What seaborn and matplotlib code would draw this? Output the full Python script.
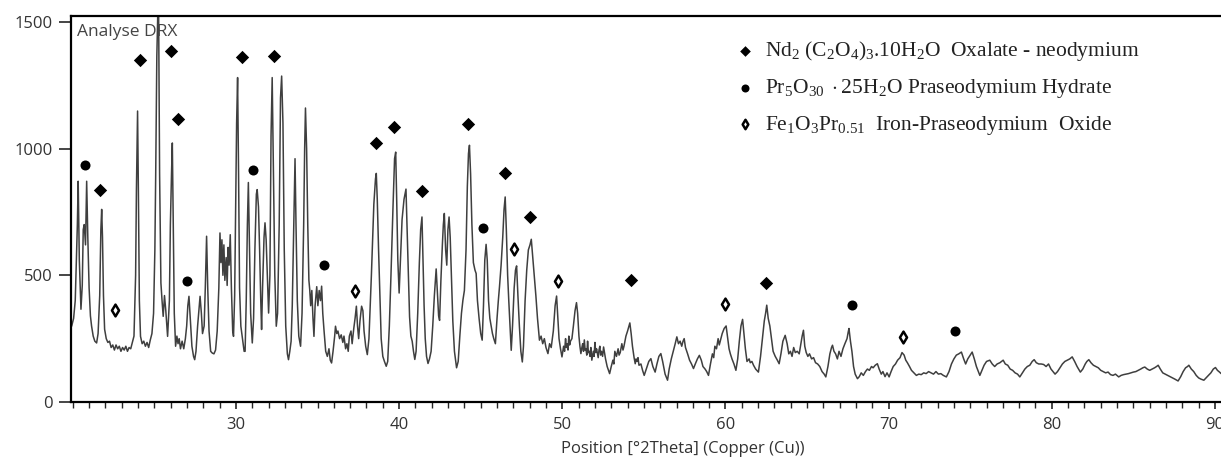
import pandas as pd
import matplotlib.pyplot as plt
import seaborn as sns
from matplotlib.ticker import MultipleLocator, FixedLocator

sns.set_style("white")
plt.rcParams['font.family'] = ['Open Sans', 'DejaVu Sans']
plt.rcParams['mathtext.fontset'] = 'custom'
plt.rcParams['mathtext.rm'] = 'Liberation Serif'
plt.rcParams['mathtext.it'] = 'Liberation Serif:italic'
plt.rcParams['mathtext.bf'] = 'Liberation Serif:bold'

# XRD pattern: (2theta, counts), split by range
scan_20_25 = [(19.93, 299), (20.05, 330), (20.15, 400), (20.23, 588), (20.28, 700), (20.33, 871),
              (20.40, 560), (20.50, 366), (20.58, 460), (20.64, 680), (20.70, 700), (20.78, 620),
              (20.85, 871), (20.92, 650), (21.00, 450), (21.08, 340), (21.15, 300), (21.25, 260),
              (21.35, 240), (21.46, 233), (21.55, 270), (21.65, 420), (21.72, 680), (21.77, 760),
              (21.82, 650), (21.88, 420), (21.95, 287), (22.05, 250), (22.15, 235), (22.25, 240),
              (22.35, 215), (22.45, 225), (22.55, 205), (22.65, 225), (22.75, 210), (22.85, 220),
              (22.95, 200), (23.05, 215), (23.15, 205), (23.25, 220), (23.35, 200), (23.45, 215),
              (23.55, 210), (23.65, 235), (23.75, 260), (23.85, 500), (23.90, 838), (23.97, 1148),
              (24.02, 830), (24.08, 400), (24.15, 259), (24.25, 230), (24.35, 240), (24.45, 220),
              (24.55, 235), (24.65, 215), (24.75, 245), (24.85, 270), (24.95, 350)]
scan_25_30 = [(25.03, 600), (25.08, 891), (25.15, 1365), (25.25, 1650), (25.32, 900), (25.40, 470),
              (25.47, 400), (25.54, 338), (25.62, 420), (25.70, 360), (25.81, 259), (25.92, 400),
              (25.98, 700), (26.05, 900), (26.10, 1022), (26.16, 700), (26.22, 350), (26.30, 220),
              (26.38, 260), (26.45, 230), (26.52, 250), (26.60, 210), (26.70, 240), (26.80, 210),
              (26.90, 250), (26.98, 300), (27.05, 380), (27.12, 417), (27.20, 330), (27.30, 220),
              (27.40, 180), (27.47, 167), (27.55, 200), (27.65, 300), (27.75, 380), (27.80, 417),
              (27.88, 350), (27.95, 270), (28.05, 300), (28.12, 450), (28.20, 654), (28.27, 450),
              (28.35, 280), (28.45, 200), (28.55, 193), (28.65, 190), (28.75, 205), (28.85, 280),
              (28.95, 450), (29.02, 667), (29.08, 550), (29.14, 640), (29.20, 500), (29.26, 620),
              (29.32, 480), (29.40, 570), (29.46, 460), (29.52, 610), (29.58, 540), (29.65, 660),
              (29.72, 450), (29.80, 280), (29.85, 259), (29.92, 420), (29.98, 760)]
scan_30_35 = [(30.04, 1100), (30.10, 1280), (30.16, 900), (30.22, 450), (30.30, 299), (30.40, 250),
              (30.50, 200), (30.56, 200), (30.63, 400), (30.70, 700), (30.76, 866), (30.82, 650),
              (30.90, 350), (31.00, 233), (31.08, 330), (31.16, 600), (31.25, 820), (31.30, 838),
              (31.38, 770), (31.45, 600), (31.52, 400), (31.57, 286), (31.63, 450), (31.72, 650),
              (31.78, 707), (31.85, 640), (31.92, 500), (32.00, 351), (32.08, 500), (32.15, 1050),
              (32.22, 1280), (32.30, 900), (32.38, 500), (32.47, 299), (32.55, 350), (32.65, 700),
              (32.73, 1200), (32.80, 1286), (32.88, 1100), (32.96, 600), (33.05, 300), (33.15, 190),
              (33.22, 167), (33.30, 200), (33.38, 240), (33.45, 380), (33.53, 650), (33.62, 960),
              (33.68, 700), (33.76, 400), (33.85, 260), (33.96, 220), (34.05, 350), (34.15, 700),
              (34.21, 1000), (34.26, 1160), (34.33, 1000), (34.40, 700), (34.47, 480), (34.52, 444),
              (34.58, 380), (34.65, 440), (34.72, 330), (34.78, 259), (34.85, 380), (34.95, 455)]
scan_35_40 = [(35.02, 380), (35.10, 440), (35.18, 400), (35.25, 457), (35.32, 350), (35.40, 280),
              (35.50, 200), (35.60, 180), (35.70, 210), (35.78, 165), (35.86, 154), (35.95, 200),
              (36.05, 260), (36.10, 299), (36.18, 270), (36.25, 280), (36.35, 250), (36.45, 265),
              (36.55, 235), (36.62, 260), (36.72, 210), (36.80, 230), (36.88, 200), (36.95, 260),
              (37.05, 280), (37.12, 230), (37.22, 290), (37.30, 330), (37.38, 378), (37.45, 300),
              (37.52, 250), (37.60, 320), (37.70, 378), (37.78, 360), (37.85, 280), (37.95, 220),
              (38.05, 187), (38.15, 250), (38.30, 500), (38.45, 780), (38.55, 880), (38.60, 902),
              (38.66, 800), (38.74, 600), (38.82, 420), (38.90, 250), (39.00, 180), (39.10, 160),
              (39.21, 141), (39.30, 160), (39.40, 300), (39.50, 500), (39.62, 760), (39.72, 960),
              (39.79, 986), (39.85, 800), (39.92, 560), (40.00, 430)]
scan_40_45 = [(40.08, 560), (40.18, 720), (40.30, 800), (40.42, 840), (40.48, 700), (40.56, 520),
              (40.64, 336), (40.72, 260), (40.80, 240), (40.88, 200), (40.96, 168), (41.04, 200),
              (41.14, 350), (41.24, 550), (41.32, 680), (41.40, 730), (41.46, 560), (41.53, 380),
              (41.60, 250), (41.68, 180), (41.77, 152), (41.86, 170), (41.96, 200), (42.06, 300),
              (42.16, 420), (42.22, 480), (42.27, 525), (42.35, 430), (42.42, 340), (42.48, 322),
              (42.56, 480), (42.65, 620), (42.71, 700), (42.77, 744), (42.85, 600), (42.92, 540),
              (42.99, 680), (43.06, 730), (43.13, 650), (43.21, 480), (43.29, 320), (43.39, 200),
              (43.52, 135), (43.62, 160), (43.72, 260), (43.82, 350), (43.91, 402), (44.00, 440),
              (44.10, 600), (44.18, 850), (44.25, 980), (44.31, 1013), (44.38, 900), (44.46, 700),
              (44.55, 550), (44.65, 520), (44.72, 507), (44.80, 400), (44.90, 330)]
scan_45_50 = [(45.00, 270), (45.09, 244), (45.17, 380), (45.25, 560), (45.33, 622), (45.40, 560),
              (45.48, 400), (45.56, 330), (45.64, 300), (45.72, 270), (45.80, 250), (45.90, 230),
              (46.00, 330), (46.08, 400), (46.15, 454), (46.25, 540), (46.35, 650), (46.43, 760),
              (46.50, 809), (46.57, 680), (46.65, 500), (46.72, 400), (46.80, 300), (46.87, 204),
              (46.95, 300), (47.05, 450), (47.13, 520), (47.20, 537), (47.28, 420), (47.37, 300),
              (47.46, 200), (47.55, 158), (47.62, 220), (47.72, 400), (47.82, 520), (47.92, 600),
              (48.02, 620), (48.10, 642), (48.18, 580), (48.28, 500), (48.38, 420), (48.48, 330),
              (48.60, 244), (48.70, 260), (48.80, 230), (48.90, 250), (49.00, 215), (49.12, 191),
              (49.22, 230), (49.32, 215), (49.45, 280), (49.56, 380), (49.65, 418), (49.72, 340),
              (49.80, 250), (49.89, 210), (49.98, 178)]
scan_50_60 = [(50.08, 220), (50.14, 200), (50.20, 250), (50.25, 215), (50.30, 230), (50.35, 205),
              (50.40, 260), (50.45, 225), (50.50, 240), (50.59, 250), (50.68, 300), (50.78, 360),
              (50.87, 392), (50.94, 350), (51.02, 260), (51.08, 220), (51.14, 191), (51.20, 215),
              (51.25, 230), (51.30, 200), (51.35, 245), (51.40, 205), (51.45, 210), (51.50, 185),
              (51.55, 240), (51.60, 195), (51.65, 200), (51.70, 180), (51.75, 215), (51.81, 165),
              (51.90, 200), (51.95, 180), (52.00, 235), (52.05, 195), (52.10, 210), (52.20, 175),
              (52.25, 205), (52.30, 220), (52.35, 185), (52.40, 200), (52.47, 180), (52.53, 217),
              (52.65, 170), (52.75, 140), (52.90, 112), (53.00, 140), (53.10, 165), (53.16, 150),
              (53.22, 200), (53.32, 180), (53.42, 210), (53.48, 185), (53.55, 195), (53.65, 230),
              (53.72, 205), (53.78, 220), (53.90, 260), (54.00, 280), (54.14, 312), (54.22, 270),
              (54.30, 220), (54.40, 175), (54.47, 151), (54.52, 170), (54.58, 160), (54.64, 175),
              (54.70, 145), (54.82, 150), (54.92, 125), (55.02, 105), (55.15, 130), (55.30, 160),
              (55.43, 171), (55.55, 140), (55.69, 118), (55.80, 150), (55.92, 180), (56.04, 191),
              (56.15, 160), (56.30, 110), (56.45, 86), (56.55, 130), (56.68, 170), (56.80, 200),
              (56.92, 230), (57.02, 257), (57.12, 230), (57.22, 240), (57.32, 220), (57.40, 240),
              (57.47, 250), (57.55, 215), (57.68, 190), (57.80, 165), (57.92, 150), (58.04, 132),
              (58.15, 150), (58.28, 170), (58.40, 184), (58.52, 165), (58.62, 140), (58.75, 130),
              (58.85, 120), (58.96, 105), (59.08, 150), (59.20, 190), (59.28, 175), (59.35, 220),
              (59.45, 210), (59.55, 250), (59.62, 225), (59.68, 240), (59.80, 270), (59.92, 290)]
scan_60_70 = [(60.04, 300), (60.12, 260), (60.22, 210), (60.30, 190), (60.40, 170), (60.52, 150),
              (60.64, 125), (60.75, 170), (60.85, 240), (60.95, 300), (61.05, 326), (61.12, 280),
              (61.22, 210), (61.32, 160), (61.45, 170), (61.52, 155), (61.62, 160), (61.72, 145),
              (61.85, 130), (62.02, 118), (62.15, 180), (62.28, 260), (62.38, 320), (62.46, 350),
              (62.53, 382), (62.62, 330), (62.72, 300), (62.82, 250), (62.92, 200), (63.05, 180),
              (63.18, 165), (63.29, 151), (63.40, 190), (63.52, 240), (63.66, 263), (63.78, 230),
              (63.88, 190), (63.98, 200), (64.08, 180), (64.18, 215), (64.28, 195), (64.40, 200),
              (64.52, 190), (64.62, 230), (64.70, 260), (64.78, 283), (64.86, 220), (64.95, 195),
              (65.05, 180), (65.15, 190), (65.28, 170), (65.40, 175), (65.52, 155), (65.65, 150),
              (65.78, 140), (65.92, 120), (66.05, 110), (66.15, 99), (66.28, 140), (66.40, 190),
              (66.50, 215), (66.56, 224), (66.65, 200), (66.75, 190), (66.86, 170), (66.96, 200),
              (67.08, 180), (67.20, 210), (67.32, 230), (67.45, 250), (67.52, 275), (67.57, 290),
              (67.66, 240), (67.75, 200), (67.85, 140), (67.95, 110), (68.09, 92), (68.20, 100),
              (68.32, 115), (68.45, 105), (68.58, 120), (68.70, 130), (68.82, 125), (68.95, 140),
              (69.05, 135), (69.18, 145), (69.31, 151), (69.42, 130), (69.55, 110), (69.65, 120),
              (69.78, 100), (69.90, 115)]
scan_70_80 = [(70.03, 99), (70.15, 120), (70.28, 140), (70.42, 150), (70.55, 165), (70.70, 175),
              (70.82, 195), (70.95, 185), (71.05, 165), (71.15, 155), (71.28, 140), (71.40, 125),
              (71.55, 115), (71.70, 105), (71.85, 110), (72.00, 108), (72.15, 115), (72.30, 112),
              (72.45, 120), (72.60, 115), (72.75, 110), (72.90, 120), (73.05, 110), (73.20, 112),
              (73.35, 105), (73.54, 99), (73.70, 120), (73.85, 150), (74.00, 170), (74.15, 185),
              (74.30, 190), (74.46, 197), (74.60, 170), (74.72, 150), (74.85, 170), (75.00, 185),
              (75.12, 197), (75.25, 170), (75.38, 140), (75.50, 120), (75.59, 105), (75.72, 125),
              (75.85, 145), (76.00, 160), (76.20, 165), (76.35, 150), (76.50, 140), (76.65, 150),
              (76.82, 155), (77.02, 165), (77.15, 150), (77.30, 145), (77.45, 130), (77.60, 125),
              (77.75, 115), (77.90, 110), (78.04, 99), (78.20, 115), (78.35, 130), (78.50, 140),
              (78.65, 145), (78.80, 160), (78.92, 167), (79.05, 155), (79.20, 150), (79.35, 150),
              (79.50, 148), (79.65, 140), (79.80, 150), (79.95, 130)]
scan_80_90 = [(80.10, 118), (80.20, 110), (80.35, 120), (80.50, 135), (80.65, 150), (80.80, 160),
              (80.95, 165), (81.10, 170), (81.25, 178), (81.40, 160), (81.55, 140), (81.75, 118),
              (81.90, 130), (82.05, 150), (82.15, 160), (82.27, 167), (82.40, 155), (82.55, 145),
              (82.70, 140), (82.85, 135), (83.00, 125), (83.15, 120), (83.30, 115), (83.45, 118),
              (83.60, 108), (83.75, 105), (83.90, 110), (84.10, 99), (84.25, 105), (84.40, 108),
              (84.55, 110), (84.70, 112), (84.85, 115), (85.00, 118), (85.15, 120), (85.30, 125),
              (85.45, 130), (85.58, 135), (85.70, 138), (85.85, 130), (86.00, 125), (86.15, 130),
              (86.30, 135), (86.42, 140), (86.52, 145), (86.65, 130), (86.80, 115), (86.95, 110),
              (87.10, 105), (87.25, 100), (87.40, 95), (87.55, 90), (87.74, 83), (87.90, 100),
              (88.05, 120), (88.20, 135), (88.32, 140), (88.40, 145), (88.55, 130), (88.70, 120),
              (88.85, 105), (89.00, 95), (89.15, 90), (89.32, 86), (89.45, 95), (89.60, 105),
              (89.75, 115), (89.90, 130), (90.03, 136), (90.15, 125), (90.28, 118), (90.38, 112)]

# phase markers (position, height of the symbol)
nd_pos = [21.69, 24.14, 26.04, 26.42, 30.37, 32.35, 38.60, 39.68, 41.42, 44.20, 46.46, 48.00, 54.24, 62.50]
nd_int = [836, 1349, 1383, 1115, 1360, 1365, 1023, 1086, 832, 1096, 902, 728, 480, 470]
pr_pos = [20.72, 27.00, 31.02, 35.37, 45.11, 67.74, 74.07]
pr_int = [934, 478, 917, 542, 686, 382, 279]
fe_pos = [22.60, 37.27, 47.03, 49.73, 60.00, 70.87]
fe_int = [362, 437, 604, 476, 388, 257]

phase_labels = [r"$\mathrm{Nd_2\ (C_2O_4)_3.10H_2O}$  Oxalate - neodymium",
                r"$\mathrm{Pr_5O_{30}}\ \cdot\mathrm{25H_2O}$ Praseodymium Hydrate",
                r"$\mathrm{Fe_1O_3Pr_{0.51}}$  Iron-Praseodymium  Oxide"]

segments = [scan_20_25, scan_25_30, scan_30_35, scan_35_40, scan_40_45, scan_45_50,
            scan_50_60, scan_60_70, scan_70_80, scan_80_90]
df = pd.DataFrame([p for seg in segments for p in seg], columns=['two_theta', 'counts'])

fig = plt.figure(figsize=(12.21, 4.58), dpi=100)
ax = fig.add_axes([71 / 1221, 1 - 402 / 458, 1150 / 1221, 386 / 458])

sns.lineplot(data=df, x='two_theta', y='counts', ax=ax, color='#3f3f3f',
             linewidth=1.1, estimator=None, sort=False)

sns.scatterplot(x=nd_pos, y=nd_int, ax=ax, marker='D', s=46, color='black',
                linewidth=0, zorder=3, label=phase_labels[0])
sns.scatterplot(x=pr_pos, y=pr_int, ax=ax, marker='o', s=52, color='black',
                linewidth=0, zorder=3, label=phase_labels[1])
sns.scatterplot(x=fe_pos, y=fe_int, ax=ax, marker='d', s=36, facecolor='white',
                edgecolor='black', linewidth=1.8, zorder=3, label=phase_labels[2])

ax.set_xlim(19.89, 90.37)
ax.set_ylim(0, 1523)
ax.xaxis.set_major_locator(FixedLocator([30, 40, 50, 60, 70, 80, 90]))
ax.xaxis.set_minor_locator(MultipleLocator(1))
ax.yaxis.set_major_locator(FixedLocator([0, 500, 1000, 1500]))
ax.tick_params(axis='x', which='major', direction='out', length=5, width=1.2,
               pad=6, labelsize=12, labelcolor='#333333', bottom=True)
ax.tick_params(axis='x', which='minor', direction='out', length=4, width=1.0, bottom=True)
ax.tick_params(axis='y', which='major', direction='out', length=9, width=1.2,
               pad=4, labelsize=12, labelcolor='#333333', left=True)

for side in ['left', 'bottom', 'top']:
    ax.spines[side].set_color('black')
    ax.spines[side].set_linewidth(1.6)
ax.spines['right'].set_visible(False)

ax.set_xlabel('Position [°2Theta] (Copper (Cu))', fontsize=12, color='#333333')
ax.xaxis.set_label_coords(0.532, -0.1)
ax.set_ylabel('')

ax.text(0.005, 0.98, 'Analyse DRX', transform=ax.transAxes, ha='left', va='top',
        fontsize=12.5, color='#444444')

leg = ax.legend(loc='upper left', bbox_to_anchor=(0.5765, 0.94), frameon=False,
                prop={'family': 'Liberation Serif', 'size': 15.5}, handlelength=1.0,
                handletextpad=0.43, labelspacing=0.65, borderpad=0, borderaxespad=0,
                markerscale=0.8, scatterpoints=1)
for t in leg.get_texts():
    t.set_color('#222222')

plt.savefig('out.png', dpi=100)
plt.close()
